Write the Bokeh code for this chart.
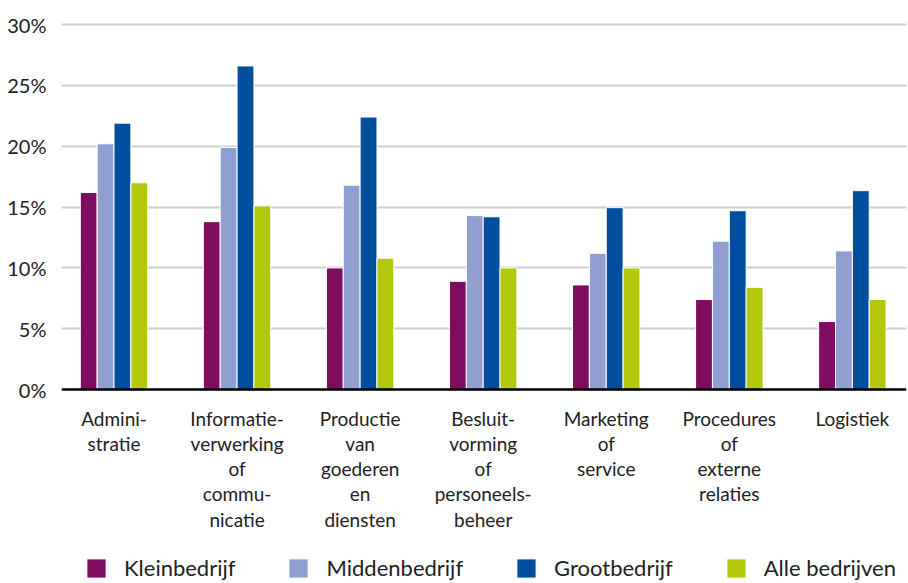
from bokeh.plotting import figure
from bokeh.models import Range1d, FixedTicker, Legend, LegendItem, ColumnDataSource, Span
from bokeh.core.properties import value
from bokeh.embed import file_html
from bokeh.resources import INLINE

categories = ["Admini-\nstratie", "Informatie-\nverwerking\nof\ncommu-\nnicatie",
              "Productie\nvan\ngoederen\nen\ndiensten", "Besluit-\nvorming\nof\npersoneels-\nbeheer",
              "Marketing\nof\nservice", "Procedures\nof\nexterne\nrelaties", "Logistiek"]
series_names = ["Kleinbedrijf", "Middenbedrijf", "Grootbedrijf", "Alle bedrijven"]
kleinbedrijf = [16.2, 13.8, 10.0, 8.9, 8.6, 7.4, 5.6]
middenbedrijf = [20.2, 19.9, 16.8, 14.3, 11.2, 12.2, 11.4]
grootbedrijf = [21.9, 26.6, 22.4, 14.2, 14.95, 14.7, 16.35]
alle_bedrijven = [17.0, 15.1, 10.8, 10.0, 10.0, 8.4, 7.4]
ytick_values = [0, 5, 10, 15, 20, 25, 30]
ytick_labels = ["0%", "5%", "10%", "15%", "20%", "25%", "30%"]

colors = ["#7e0d5f", "#909fd0", "#004f9f", "#b2ca0b"]
FONT = "Lato"
TXT = "#222222"

p = figure(frame_width=845, frame_height=565, output_backend="svg", toolbar_location=None,
           x_range=Range1d(-0.4267, 6.44), y_range=Range1d(-15.94, 30.5),
           x_axis_location=None,
           min_border_left=61, min_border_right=2, min_border_top=18, min_border_bottom=0)
p.outline_line_color = None
p.background_fill_color = "white"

bw = 0.137
offsets = [-1.5 * bw, -0.5 * bw, 0.5 * bw, 1.5 * bw]
all_series = [kleinbedrijf, middenbedrijf, grootbedrijf, alle_bedrijven]
items = []
xs = list(range(len(categories)))

p.xgrid.grid_line_color = None
p.ygrid.grid_line_color = "#d0d0d0"
p.ygrid.grid_line_width = 2
p.ygrid.ticker = FixedTicker(ticks=ytick_values)

for name, vals, off, col in zip(series_names, all_series, offsets, colors):
    src = ColumnDataSource(dict(x=[x + off for x in xs], top=vals))
    r = p.vbar(x="x", top="top", bottom=0, width=bw, source=src, fill_color=col,
               line_color="white", line_width=1)
    items.append(LegendItem(label=name, renderers=[r]))

# baseline (x axis line)
p.add_layout(Span(location=0, dimension="width", line_color="black", line_width=2.5))

# category labels under the baseline
lab_src = ColumnDataSource(dict(x=xs, y=[0] * len(xs), text=categories))
p.text(x="x", y="y", text="text", source=lab_src, text_align="center", text_baseline="top",
       y_offset=17, text_font=value(FONT), text_font_size="19px", text_color=TXT,
       text_line_height=1.1)

p.yaxis.ticker = FixedTicker(ticks=ytick_values)
p.yaxis.major_label_overrides = {v: l for v, l in zip(ytick_values, ytick_labels)}
p.yaxis.axis_line_color = None
p.yaxis.major_tick_line_color = None
p.yaxis.minor_tick_line_color = None
p.yaxis.major_label_text_font = FONT
p.yaxis.major_label_text_font_size = "20px"
p.yaxis.major_label_text_color = TXT
p.yaxis.major_label_standoff = 9

legend = Legend(items=items, orientation="horizontal", location=(23, 2),
                glyph_width=24, glyph_height=24, label_standoff=16, spacing=51,
                label_text_font=FONT, label_text_font_size="22px", label_text_color=TXT,
                border_line_color=None, background_fill_alpha=0, padding=0, margin=0)
p.add_layout(legend, "center")

open("out.html", "w").write(file_html(p, INLINE))
